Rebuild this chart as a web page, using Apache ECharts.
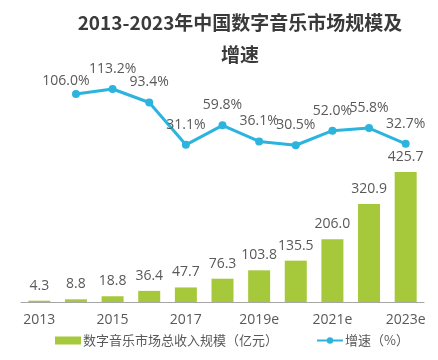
<!DOCTYPE html>
<html><head><meta charset="utf-8">
<script src="https://cdn.jsdelivr.net/npm/echarts@6/dist/echarts.min.js"></script>
<style>html,body{margin:0;padding:0;background:#fff}#c{width:438px;height:360px}</style>
</head><body><div id="c"></div>
<script>
const categories = ['2013','2014','2015','2016','2017','2018','2019e','2020e','2021e','2022e','2023e'];
const revenue = [4.3, 8.8, 18.8, 36.4, 47.7, 76.3, 103.8, 135.5, 206.0, 320.9, 425.7];
const growth = [null, 106.0, 113.2, 93.4, 31.1, 59.8, 36.1, 30.5, 52.0, 55.8, 32.7];
const titleText = '2013-2023年中国数字音乐市场规模及\n增速';
const barName = '数字音乐市场总收入规模（亿元）';
const lineName = '增速（%）';

const chart = echarts.init(document.getElementById('c'));
const font = '"Noto Sans CJK SC", "Noto Sans", sans-serif';
const numFont = '"Open Sans", "Noto Sans CJK SC", sans-serif';
const lineData = growth.map((v, i) => i === 1
  ? {value: v, label: {offset: [-10, 7]}}
  : v);
chart.setOption({
  backgroundColor: '#fff',
  animation: false,
  textStyle: {fontFamily: font},
  title: {
    text: titleText, left: 235, top: 2, textAlign: 'center',
    textStyle: {fontSize: 19, fontWeight: 'bold', color: '#3a3a3a', lineHeight: 32, fontFamily: font}
  },
  legend: {
    bottom: 8, left: 50, itemGap: 38, itemWidth: 26, itemHeight: 8,
    textStyle: {fontSize: 13, color: '#595959', fontFamily: font, padding: [0, 0, 0, -3]},
    data: [{name: barName, icon: 'rect'}, {name: lineName}]
  },
  grid: {left: 21, right: 14, top: 64, bottom: 58},
  xAxis: {
    type: 'category', data: categories,
    axisTick: {show: false},
    axisLine: {lineStyle: {color: '#a6a6a6', width: 1}},
    axisLabel: {interval: 1, color: '#595959', fontSize: 14, margin: 11, fontFamily: numFont}
  },
  yAxis: [
    {type: 'value', min: 0, max: 780, show: false, splitLine: {show: false}},
    {type: 'value', min: -200, max: 150, show: false, splitLine: {show: false}}
  ],
  series: [
    {
      name: barName, type: 'bar', data: revenue, yAxisIndex: 0, barWidth: 22,
      itemStyle: {color: '#a5c93a'},
      label: {show: true, position: 'top', distance: 8, color: '#595959', fontSize: 14,
        formatter: p => p.value.toFixed(1), fontFamily: numFont}
    },
    {
      name: lineName, type: 'line', data: lineData, yAxisIndex: 1,
      symbol: 'circle', symbolSize: 8,
      lineStyle: {color: '#2cb4de', width: 3},
      itemStyle: {color: '#2cb4de'},
      label: {show: true, position: 'top', distance: 9, color: '#595959', fontSize: 14,
        formatter: p => p.value.toFixed(1) + '%', fontFamily: numFont}
    }
  ]
});
</script></body></html>
